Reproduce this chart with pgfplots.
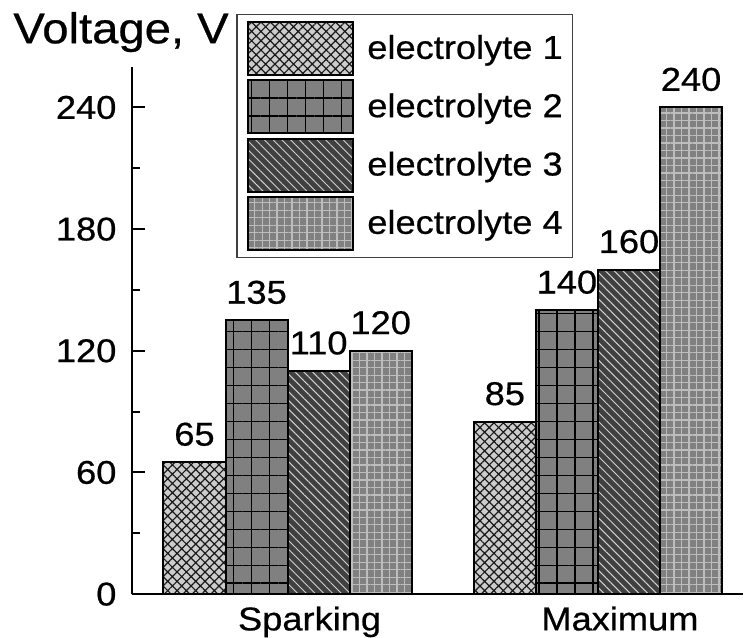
\documentclass[border=0pt]{standalone}
\usepackage{pgfplots}
\pgfplotsset{compat=1.18}
\usepackage{fontspec}
\setmainfont{Liberation Sans}[FakeStretch=1.1,FakeBold=0.6]
\usetikzlibrary{patterns.meta}

\definecolor{eA}{gray}{0.80}
\definecolor{eB}{gray}{0.50}
\definecolor{eC}{gray}{0.25}
\definecolor{eCl}{gray}{0.82}
\definecolor{eD}{gray}{0.50}
\definecolor{eDl}{gray}{0.74}

\pgfplotsset{ybar legend/.style={/pgfplots/legend image code/.code={\draw[##1] (0pt,-13.25pt) rectangle (52.8pt,13.25pt);}}}

\begin{document}
\begin{tikzpicture}[font=\fontsize{16.5}{19.8}\selectfont]
\begin{axis}[
  scale only axis, width=306pt, height=264pt,
  xmin=-0.502, xmax=1.467, ymin=0, ymax=260,
  axis x line=bottom, axis y line=left,
  axis line style={-, line width=1.1pt},
  ybar=0pt, bar width=0.2,
  xtick={0,1}, xticklabels={Sparking,Maximum},
  major x tick style={draw=none},
  ytick={0,60,120,180,240}, minor ytick={30,90,150,210},
  tick align=inside,
  major tick length=6.5pt, minor tick length=4pt,
  every tick/.style={black, line width=1pt},
  yticklabel style={anchor=east, inner sep=0pt, xshift=-7.5pt},
  xticklabel style={anchor=north, inner sep=0pt, yshift=-6pt, xshift=11pt},
  /pgf/number format/assume math mode=true,
  nodes near coords,
  every node near coord/.append style={inner sep=0pt, yshift=7.7pt},
  clip=false,
  legend cell align=left,
  legend style={at={(rel axis cs:0.171,1.1004)}, anchor=north west, draw=black!75, line width=0.6pt,
    inner xsep=5pt, inner ysep=3.2pt, row sep=1.7pt, column sep=6.5pt, nodes={inner sep=0pt}},
  legend entries={electrolyte 1\hspace{3pt},electrolyte 2\hspace{3pt},electrolyte 3\hspace{3pt},electrolyte 4\hspace{3pt}},
]
\addplot[draw=black, line width=1pt, preaction={fill=eA},
  preaction={pattern={Hatch[angle=45,distance=3.3pt,line width=0.6pt]}, pattern color=black!90}]
  coordinates {(0,65) (1,85)};
\addplot[draw=black, line width=1pt, preaction={fill=eB},
  preaction={pattern={Hatch[angle=0,distance=9pt,line width=0.8pt]}, pattern color=black}]
  coordinates {(0,135) (1,140)};
\addplot[draw=black, line width=1pt, preaction={fill=eC},
  preaction={pattern={Lines[angle=-45,distance=3.1pt,line width=0.5pt]}, pattern color=eCl}]
  coordinates {(0,110) (1,160)};
\addplot[draw=black, line width=1pt, preaction={fill=eD},
  preaction={pattern={Hatch[angle=0,distance=3.75pt,line width=0.6pt]}, pattern color=eDl}]
  coordinates {(0,120) (1,240)};
\node[anchor=base west, inner sep=0pt, font=\fontsize{21.5}{26}\selectfont] at (rel axis cs:-0.1944,1.0449) {Voltage, V};
\path (rel axis cs:-0.21569,-0.08144) rectangle (rel axis cs:1,1.12689);
\end{axis}
\end{tikzpicture}
\end{document}
